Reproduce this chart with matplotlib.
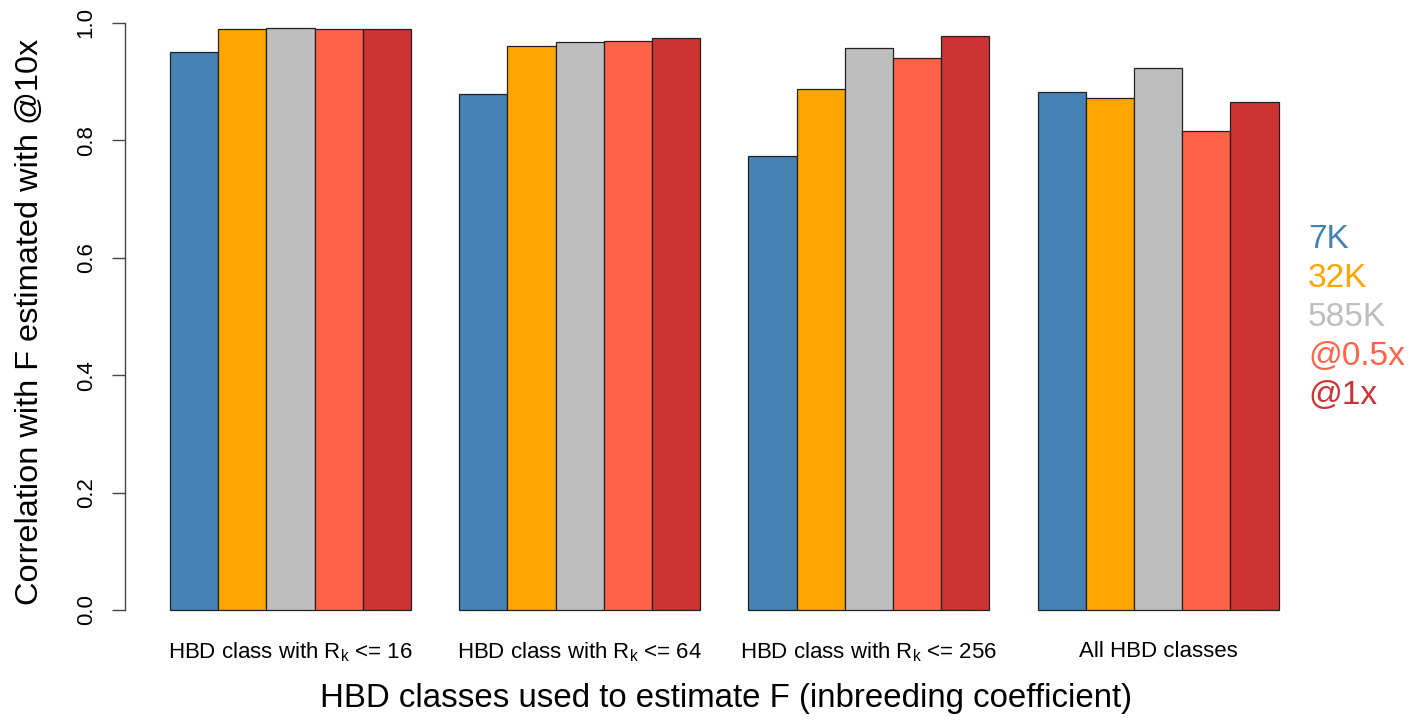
import matplotlib
matplotlib.use("Agg")
import matplotlib.pyplot as plt
import numpy as np

plt.rcParams['font.family'] = ['Liberation Sans', 'DejaVu Sans']
plt.rcParams['mathtext.default'] = 'regular'

# correlation with F at @10x, per HBD class group and per panel
groups = ["HBD class with R$_k$ <= 16", "HBD class with R$_k$ <= 64",
          "HBD class with R$_k$ <= 256", "All HBD classes"]
series = ["7K", "32K", "585K", "@0.5x", "@1x"]
kolory = ["#4682B4", "#FFA500", "#BEBEBE", "#FF6347", "#CD3333"]

v_7k = [0.951, 0.879, 0.773, 0.883]
v_32k = [0.989, 0.960, 0.887, 0.872]
v_585k = [0.992, 0.967, 0.958, 0.924]
v_05x = [0.990, 0.969, 0.941, 0.816]
v_1x = [0.990, 0.974, 0.978, 0.866]
wartosci = [v_7k, v_32k, v_585k, v_05x, v_1x]

W, H = 1412, 720
fig = plt.figure(figsize=(W / 100, H / 100), dpi=100)

# R-style barplot: bar width 1, one empty unit between groups
x_lewo = 125
x_prawo = 1278.6
ax = fig.add_axes([x_lewo / W, 1 - 610 / H, (x_prawo - x_lewo) / W, 587 / H])

n = len(series)
for i in range(n):
    pozycje = 1 + np.arange(len(groups)) * (n + 1) + i
    ax.bar(pozycje, wartosci[i], width=1, align='edge', color=kolory[i],
           edgecolor='#222222', linewidth=0.9, clip_on=False)

ax.set_xlim(0.066, 24)
ax.set_ylim(0, 1)

for s in ['top', 'right', 'bottom']:
    ax.spines[s].set_visible(False)
ax.spines['left'].set_bounds(0, 1)
ax.spines['left'].set_color('#444444')
ax.spines['left'].set_linewidth(1.0)

ax.set_yticks(np.arange(0, 1.01, 0.2))
ax.set_yticklabels(["%.1f" % t for t in np.arange(0, 1.01, 0.2)],
                   rotation=90, va='center', fontsize=16)
ax.tick_params(axis='y', length=9.4, width=1.0, color='#444444', pad=11)

srodki = 1 + np.arange(len(groups)) * (n + 1) + n / 2
ax.set_xticks(srodki)
ax.set_xticklabels(groups, fontsize=16)
ax.tick_params(axis='x', length=0, pad=22)

fig.text(725.5 / W, 1 - 698 / H,
         "HBD classes used to estimate F (inbreeding coefficient)",
         ha='center', va='center', fontsize=23.8)
fig.text(30 / W, 1 - 322 / H, "Correlation with F estimated with @10x",
         ha='center', va='center', rotation=90, fontsize=23.4)

# legend as coloured text on the right
for i, (nazwa, kol) in enumerate(zip(series, kolory)):
    fig.text(1308 / W, 1 - (240 + i * 38.8) / H, nazwa, color=kol,
             ha='left', va='center', fontsize=24)

fig.savefig("out.png", dpi=100)
